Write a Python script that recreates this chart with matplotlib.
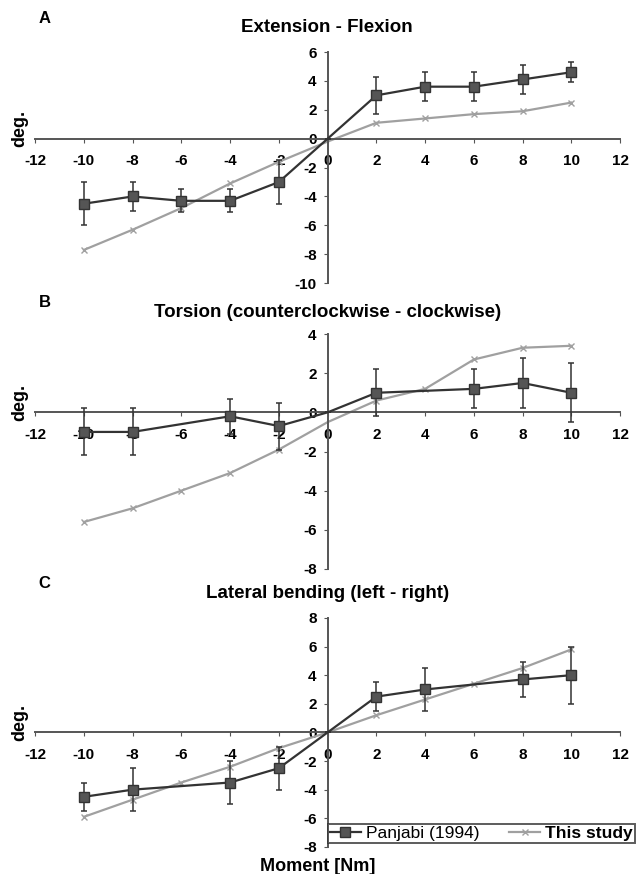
import matplotlib
matplotlib.use("Agg")
from matplotlib import pyplot as plt
from matplotlib.transforms import blended_transform_factory

plt.rcParams['font.family'] = ['Liberation Sans', 'DejaVu Sans']
plt.rcParams['axes.unicode_minus'] = False

moment = [-10, -8, -6, -4, -2, 0, 2, 4, 6, 8, 10]

# A - extension / flexion
panj_a_x = [-10, -8, -6, -4, -2, 0, 2, 4, 6, 8, 10]
panj_a_y = [-4.5, -4.0, -4.3, -4.3, -3.0, 0, 3.0, 3.6, 3.6, 4.1, 4.6]
panj_a_err = [1.5, 1.0, 0.8, 0.8, 1.5, 0, 1.3, 1.0, 1.0, 1.0, 0.7]
this_a = [-7.7, -6.3, -4.8, -3.1, -1.6, -0.2, 1.1, 1.4, 1.7, 1.9, 2.5]

# B - torsion
panj_b_x = [-10, -8, -4, -2, 0, 2, 6, 8, 10]
panj_b_y = [-1.0, -1.0, -0.2, -0.7, 0, 1.0, 1.2, 1.5, 1.0]
panj_b_err = [1.2, 1.2, 0.9, 1.2, 0, 1.2, 1.0, 1.3, 1.5]
this_b = [-5.6, -4.9, -4.0, -3.1, -1.9, -0.5, 0.6, 1.2, 2.7, 3.3, 3.4]

# C - lateral bending
panj_c_x = [-10, -8, -4, -2, 0, 2, 4, 8, 10]
panj_c_y = [-4.5, -4.0, -3.5, -2.5, 0, 2.5, 3.0, 3.7, 4.0]
panj_c_err = [1.0, 1.5, 1.5, 1.5, 0, 1.0, 1.5, 1.25, 2.0]
this_c = [-5.9, -4.7, -3.5, -2.4, -1.1, 0.0, 1.2, 2.3, 3.4, 4.5, 5.8]

panels = [
    ("A", "Extension - Flexion", panj_a_x, panj_a_y, panj_a_err, this_a, (-10, 6)),
    ("B", "Torsion (counterclockwise - clockwise)", panj_b_x, panj_b_y, panj_b_err, this_b, (-8, 4)),
    ("C", "Lateral bending (left - right)", panj_c_x, panj_c_y, panj_c_err, this_c, (-8, 8)),
]

# axes boxes in figure fraction [left, bottom, width, height]
boxes = [
    [0.055, 0.676, 0.917, 0.2645],
    [0.055, 0.349, 0.917, 0.2688],
    [0.055, 0.031, 0.917, 0.262],
]
title_y = [0.968, 0.643, 0.3215]

dark = "#333333"
light = "#a0a0a0"

fig = plt.figure(figsize=(6.38, 8.74), dpi=100)

for i, (letter, title, px, py, perr, ty, ylim) in enumerate(panels):
    ax = fig.add_axes(boxes[i])
    ax.set_xlim(-12, 12)
    ax.set_ylim(ylim)

    ax.plot(moment, ty, color=light, lw=1.6, marker="x", ms=5, mew=1.0,
            markevery=[k for k in range(len(moment)) if moment[k] != 0],
            label="This study", zorder=2)
    ax.errorbar(px, py, yerr=perr, fmt="none", ecolor=dark, elinewidth=1.1,
                capsize=2.5, capthick=1.1, zorder=3)
    ax.plot(px, py, color=dark, lw=1.6, marker="s", ms=7, mfc="#555555",
            mec=dark, markevery=[k for k in range(len(px)) if px[k] != 0],
            label="Panjabi (1994)", zorder=4)

    for s in ["top", "right"]:
        ax.spines[s].set_visible(False)
    ax.spines["left"].set_position(("data", 0))
    ax.spines["bottom"].set_position(("data", 0))
    ax.spines["left"].set_color("#555555")
    ax.spines["bottom"].set_color("#555555")
    ax.spines["left"].set_linewidth(1.4)
    ax.spines["bottom"].set_linewidth(1.4)

    ax.set_xticks(range(-12, 13, 2))
    ax.set_yticks(range(ylim[0], ylim[1] + 1, 2))
    ax.tick_params(axis="x", direction="out", length=3, pad=8, colors="#555555",
                   labelcolor="black", labelsize=11)
    ax.tick_params(axis="y", direction="out", length=3, pad=5, colors="#555555",
                   labelcolor="black", labelsize=11)
    for lab in ax.get_xticklabels() + ax.get_yticklabels():
        lab.set_fontweight("bold")

    # "deg." sits just above the x tick labels, left of the -12 label
    trans = blended_transform_factory(ax.transAxes, ax.transData)
    ax.annotate("deg.", xy=(-0.027, 0), xycoords=trans, xytext=(0, -6),
                textcoords="offset points", rotation=90, ha="center",
                va="bottom", fontsize=13, fontweight="bold",
                annotation_clip=False)

    fig.text(0.07, title_y[i] + 0.011, letter, fontsize=12, fontweight="bold",
             ha="center", va="center")
    fig.text(0.513, title_y[i], title, fontsize=13.5, fontweight="bold",
             ha="center", va="center")

    if i == 2:
        handles, labels = ax.get_legend_handles_labels()
        leg = fig.legend(handles[::-1], labels[::-1], ncol=2,
                         bbox_to_anchor=(0.514, 0.0355, 0.481, 0.0285),
                         loc="lower left", mode="expand", fontsize=12.5,
                         frameon=True, fancybox=False, borderpad=0.1,
                         handlelength=1.8, handletextpad=0.3, columnspacing=0.6,
                         borderaxespad=0)
        leg.get_frame().set_edgecolor("#333333")
        leg.get_frame().set_linewidth(1.4)
        leg.get_texts()[1].set_fontweight("bold")

fig.text(0.498, 0.009, "Moment [Nm]", fontsize=13, fontweight="bold",
         ha="center", va="center")

fig.savefig("out.png", dpi=100)
